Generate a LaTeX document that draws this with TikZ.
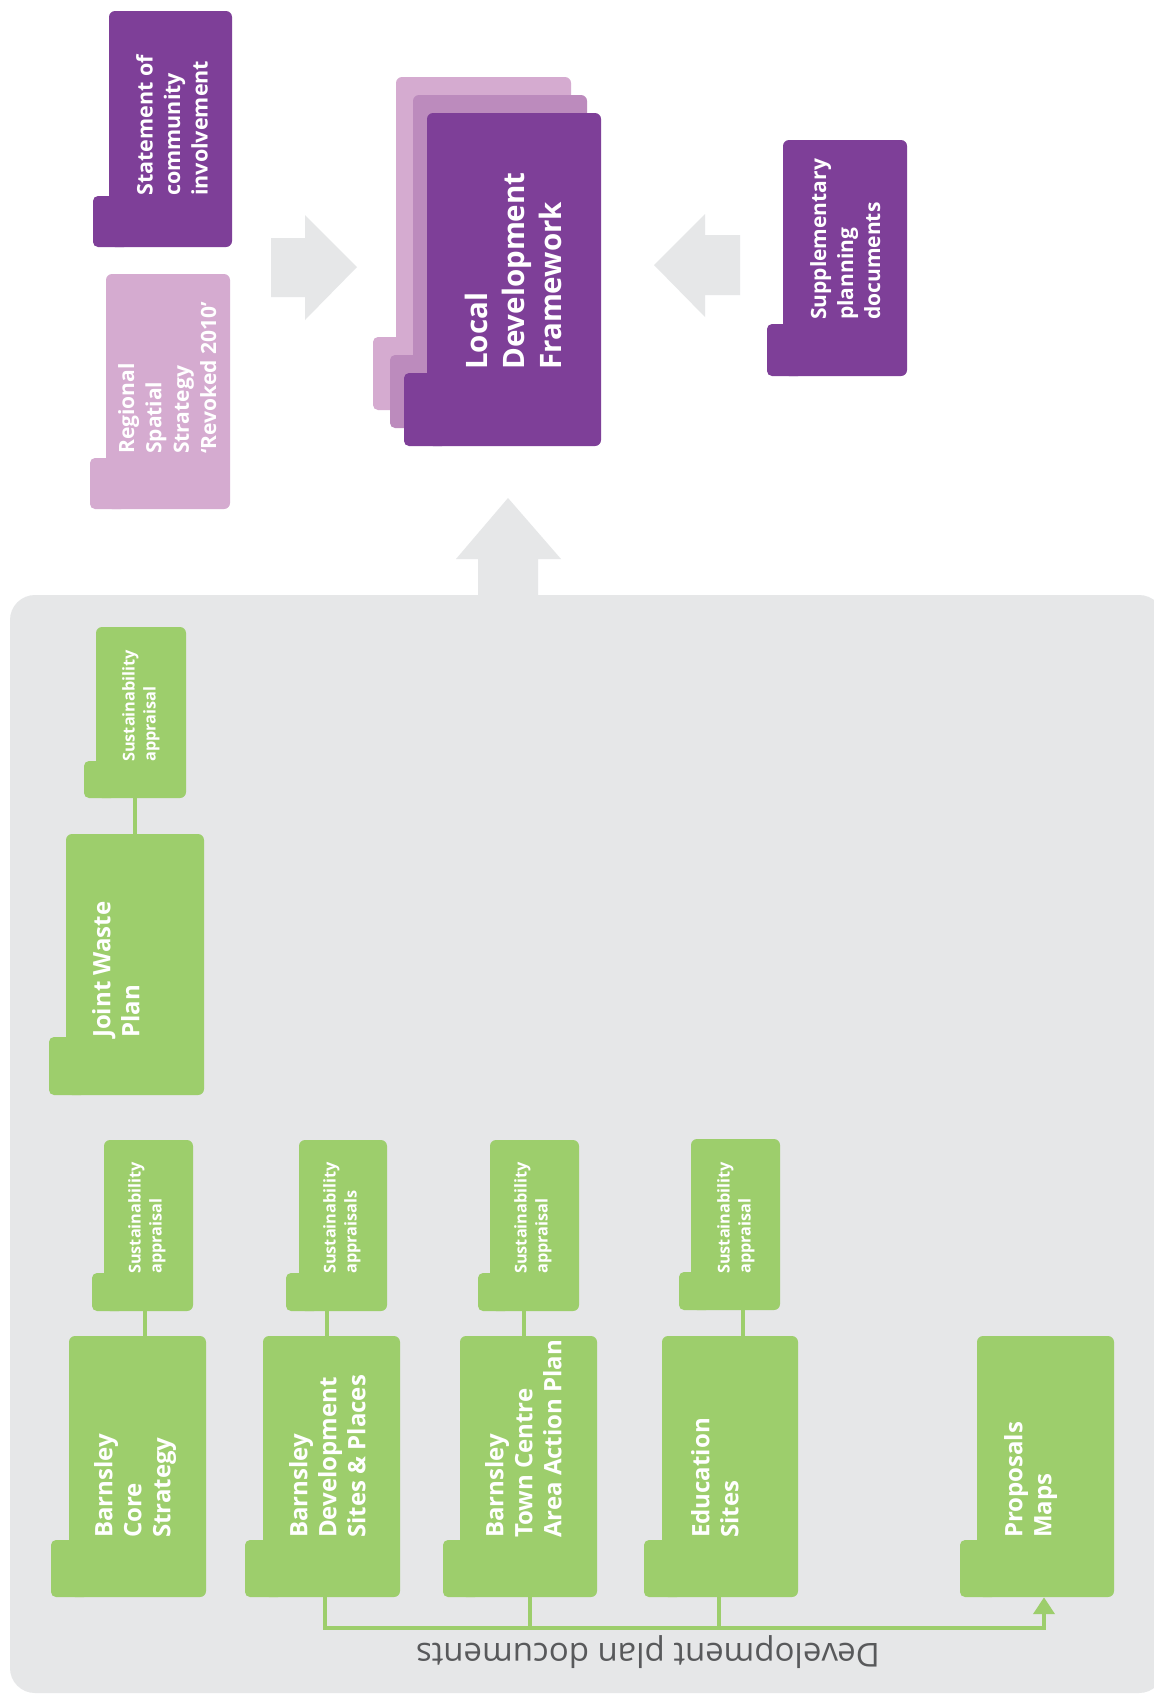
\documentclass[tikz,border=0pt]{standalone}
\usepackage{fontspec}
\setmainfont{Open Sans}
\usetikzlibrary{arrows.meta,fit}
\definecolor{purp}{HTML}{7E3F98}
\definecolor{pinkL}{HTML}{D5ABD0}
\definecolor{pinkM}{HTML}{BC8BBD}
\definecolor{grn}{HTML}{9DCE6C}
\definecolor{pnl}{HTML}{E6E7E8}
\definecolor{txtg}{HTML}{58595B}
\newcommand\docbox[8]{%
  \fill[#2,rounded corners=6pt] (#4,#5) rectangle (#6,#7);
  \fill[#2,rounded corners=5pt] (#3,#8) rectangle (#4+20,#7);
  \node[fit={(#3,#5) (#6,#7)},inner sep=0pt] (#1) {};
}
\begin{document}
\begin{tikzpicture}[x=1pt,y=-1pt,
  txt/.style={rotate=90,anchor=north west,inner sep=0pt,align=left,text=white},
  bigf/.style={font=\bfseries\fontsize{24}{29}\selectfont},
  midf/.style={font=\bfseries\fontsize{21.5}{27.5}\selectfont},
  smallf/.style={font=\bfseries\fontsize{16.3}{21}\selectfont},
  ldff/.style={font=\bfseries\fontsize{29.5}{37}\selectfont},
  conn/.style={draw=grn,line width=4pt},
  blockarrow/.style={fill=pnl}]
\useasboundingbox (0,0) rectangle (1154,1695);
\clip (0,0) rectangle (1154,1695);
\fill[white] (0,0) rectangle (1154,1695);
% panel
\fill[pnl,rounded corners=25pt] (10,595) rectangle (1164,1693);
% block arrows
\fill[blockarrow] (478,602) -- (478,559) -- (456,559) -- (508,498) -- (561,559) -- (538,559) -- (538,602) -- cycle;
\fill[blockarrow] (271,238) -- (305,238) -- (305,215) -- (357,267) -- (305,320) -- (305,297) -- (271,297) -- cycle;
\fill[blockarrow] (740,235) -- (705,235) -- (705,214) -- (654,265) -- (705,317) -- (705,295) -- (740,295) -- cycle;
% top boxes
\docbox{sci}{purp}{93}{109}{11}{232}{247}{196}
\node[txt,midf] (t-sci) at (136,196) {Statement of\\community\\involvement};
\docbox{rss}{pinkL}{90}{106}{274}{230}{509}{458}
\node[txt,font=\bfseries\fontsize{21}{27.3}\selectfont] (t-rss) at (118,454) {Regional\\Spatial\\Strategy\\‘Revoked 2010’};
\docbox{ldfA}{pinkL}{373}{396}{77}{571}{410}{337}
\docbox{ldfB}{pinkM}{390}{413}{95}{587}{428}{355}
\docbox{ldf}{purp}{404}{427}{113}{601}{446}{373}
\node[txt,ldff] (t-ldf) at (465,370) {Local\\Development\\Framework};
\docbox{spd}{purp}{767}{783}{140}{907}{376}{324}
\node[txt,font=\bfseries\fontsize{21}{27}\selectfont] (t-spd) at (810,320) {Supplementary\\planning\\documents};
% joint waste
\docbox{jwsa}{grn}{84}{96}{627}{186}{798}{761}
\node[txt,smallf] (t-jwsa) at (122,762) {Sustainability\\appraisal};
\docbox{jwp}{grn}{49}{66}{834}{204}{1095}{1037}
\node[txt,bigf] (t-jwp) at (92,1038) {Joint Waste\\Plan};
\coordinate (cj) at (135,0);
\draw[conn] (cj |- jwsa.south) -- (cj |- jwp.north);
% sustainability row
\docbox{sa1}{grn}{92}{104}{1140}{193}{1311}{1273}
\node[txt,smallf] (t-sa1) at (128,1274) {Sustainability\\appraisal};
\docbox{sa2}{grn}{286}{299}{1140}{387}{1311}{1273}
\node[txt,smallf] (t-sa2) at (323,1274) {Sustainability\\appraisals};
\docbox{sa3}{grn}{478}{490}{1140}{579}{1311}{1273}
\node[txt,smallf] (t-sa3) at (514,1274) {Sustainability\\appraisal};
\docbox{sa4}{grn}{679}{691}{1139}{780}{1310}{1272}
\node[txt,smallf] (t-sa4) at (717,1274) {Sustainability\\appraisal};
% main row
\docbox{cs}{grn}{51}{69}{1336}{206}{1597}{1540}
\node[txt,bigf] (t-cs) at (94,1538) {Barnsley\\Core\\Strategy};
\docbox{dsp}{grn}{245}{263}{1336}{400}{1597}{1540}
\node[txt,bigf] (t-dsp) at (289,1538) {Barnsley\\Development\\Sites \& Places};
\docbox{tc}{grn}{443}{460}{1336}{597}{1597}{1540}
\node[txt,bigf] (t-tc) at (485,1538) {Barnsley\\Town Centre\\Area Action Plan};
\docbox{ed}{grn}{644}{662}{1336}{798}{1597}{1540}
\node[txt,bigf] (t-ed) at (691,1538) {Education\\Sites};
\docbox{pm}{grn}{960}{977}{1336}{1114}{1597}{1540}
\node[txt,bigf] (t-pm) at (1004,1538) {Proposals\\Maps};
% connectors
\coordinate (c1) at (145,0);
\coordinate (c2) at (327,0);
\coordinate (c3) at (524,0);
\coordinate (c4) at (743,0);
\draw[conn] (c1 |- sa1.south) -- (c1 |- cs.north);
\draw[conn] (c2 |- sa2.south) -- (c2 |- dsp.north);
\draw[conn] (c3 |- sa3.south) -- (c3 |- tc.north);
\draw[conn] (c4 |- sa4.south) -- (c4 |- ed.north);
\coordinate (busL) at (325,1628);
\coordinate (busT) at (530,1628);
\coordinate (busE) at (719,1628);
\coordinate (busR) at (1044,1628);
\draw[conn,-{Triangle[width=21pt,length=17pt]}] (busL |- dsp.south) -- (busL) -- (busR) -- (busR |- pm.south);
\draw[conn] (busT |- tc.south) -- (busT);
\draw[conn] (busE |- ed.south) -- (busE);
\node[rotate=180,text=txtg,font=\fontsize{33}{40}\selectfont,inner sep=0pt] (dpd) at (648,1652) {Development plan documents};
\end{tikzpicture}
\end{document}
